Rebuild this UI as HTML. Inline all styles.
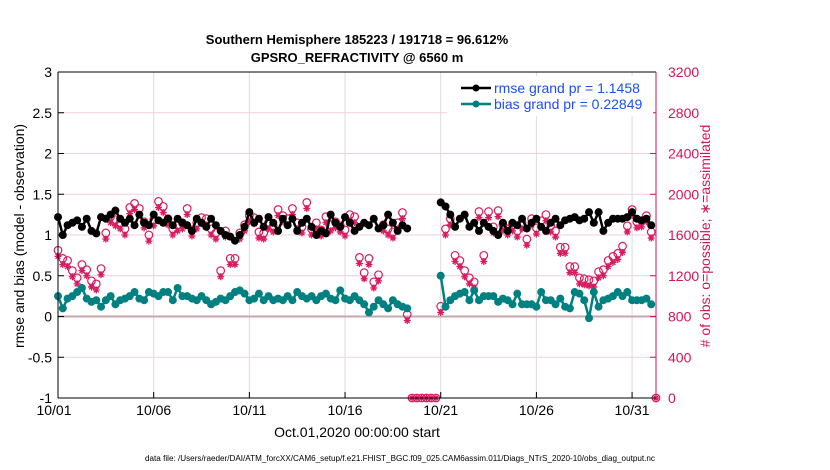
<!DOCTYPE html>
<html><head><meta charset="utf-8"><style>
html,body{margin:0;padding:0;background:#fff;}
svg{display:block;font-family:"Liberation Sans",Arial,sans-serif;}
</style></head><body>
<svg id="chart" width="830" height="470" viewBox="0 0 830 470">
<g id="grid"></g>
<g id="series"></g>
<g id="axes"></g>
<text x="357" y="44" text-anchor="middle" font-size="13" font-weight="bold">Southern Hemisphere 185223 / 191718 = 96.612%</text>
<text x="357" y="62" text-anchor="middle" font-size="13" font-weight="bold">GPSRO_REFRACTIVITY @ 6560 m</text>
<text x="357" y="437" text-anchor="middle" font-size="14">Oct.01,2020 00:00:00 start</text>
<text x="400" y="461" text-anchor="middle" font-size="8" textLength="510" lengthAdjust="spacingAndGlyphs">data file: /Users/raeder/DAI/ATM_forcXX/CAM6_setup/f.e21.FHIST_BGC.f09_025.CAM6assim.011/Diags_NTrS_2020-10/obs_diag_output.nc</text>
<text transform="translate(24,236) rotate(-90)" text-anchor="middle" font-size="14">rmse and bias (model - observation)</text>
<text transform="translate(710,236) rotate(-90)" text-anchor="middle" font-size="14" fill="#d4145a"># of obs: o=possible; ∗=assimilated</text>
<g>
<rect x="447" y="76" width="206" height="40" fill="#fff"/>
<line x1="461" y1="88" x2="491" y2="88" stroke="#000" stroke-width="2.5"/>
<circle cx="476" cy="88" r="3.5" fill="#000"/>
<text x="494" y="93" font-size="14" fill="#1a4ff0">rmse grand pr = 1.1458</text>
<line x1="461" y1="104" x2="491" y2="104" stroke="#008080" stroke-width="2.5"/>
<circle cx="476" cy="104" r="3.5" fill="#008080"/>
<text x="494" y="109" font-size="14" fill="#1a4ff0">bias grand pr = 0.22849</text>
</g>
</svg>
<script>
const rmseSeg1 = [1.22,1.0,1.12,1.15,1.18,1.1,1.2,1.05,1.02,1.22,1.2,1.25,1.3,1.2,1.15,1.2,1.12,1.25,1.15,1.12,1.25,1.18,1.15,1.2,1.12,1.2,1.15,1.12,1.05,1.2,1.15,1.1,1.2,1.12,1.05,1.0,0.98,0.93,1.0,1.1,1.28,1.15,1.2,1.1,1.22,1.15,1.05,1.2,1.12,1.2,1.05,1.15,1.2,1.1,1.0,1.05,1.02,1.25,1.15,1.1,1.22,1.15,1.05,1.1,1.15,1.12,1.2,1.08,1.12,1.25,1.15,1.05,1.12,1.08];
const rmseSeg2 = [1.4,1.35,1.25,1.1,1.2,1.25,1.1,1.15,1.05,1.15,1.1,1.05,1.0,1.15,1.05,1.15,1.12,1.2,1.08,1.15,1.2,1.1,1.05,1.15,1.2,1.12,1.18,1.2,1.22,1.18,1.2,1.28,1.15,1.28,1.05,1.15,1.2,1.2,1.2,1.22,1.28,1.2,1.18,1.2,1.12];
const biasSeg1 = [0.25,0.1,0.22,0.25,0.3,0.35,0.22,0.18,0.2,0.12,0.2,0.25,0.15,0.2,0.22,0.25,0.3,0.22,0.2,0.3,0.28,0.25,0.3,0.3,0.2,0.35,0.25,0.25,0.22,0.2,0.25,0.2,0.15,0.18,0.22,0.2,0.25,0.3,0.32,0.28,0.2,0.22,0.28,0.2,0.25,0.2,0.22,0.2,0.25,0.2,0.3,0.25,0.22,0.25,0.2,0.25,0.28,0.22,0.2,0.32,0.22,0.2,0.25,0.2,0.15,0.05,0.12,0.2,0.15,0.1,0.2,0.15,0.12,0.1];
const biasSeg2 = [0.5,0.12,0.2,0.25,0.28,0.3,0.2,0.32,0.2,0.25,0.25,0.25,0.18,0.22,0.2,0.15,0.28,0.15,0.15,0.15,0.12,0.3,0.2,0.2,0.15,0.22,0.12,0.1,0.3,0.28,0.2,-0.02,0.3,0.12,0.2,0.22,0.25,0.3,0.25,0.3,0.2,0.2,0.2,0.22,0.15];
const possSeg1 = [1450,1370,1350,1250,1180,1310,1260,1150,1120,1270,1620,1780,1750,1720,1660,1870,1910,1860,1730,1600,1750,1930,1880,1760,1660,1700,1720,1860,1650,1720,1770,1760,1660,1620,1250,1640,1370,1370,1620,1700,1790,1770,1630,1620,1720,1690,1850,1790,1760,1860,1720,1680,1920,1660,1720,1650,1780,1700,1730,1690,1650,1800,1780,1380,1230,1370,1140,1210,1700,1660,1630,1720,1820,820];
const possGap = [0,0,0,0,0,0];
const possSeg2 = [900,1660,1760,1400,1350,1250,1180,1140,1830,1400,1830,1680,1840,1700,1660,1700,1640,1720,1560,1760,1670,1740,1800,1690,1640,1480,1480,1290,1290,1180,1170,1160,1150,1240,1260,1350,1390,1420,1490,1690,1850,1730,1740,1790,1630,0];
const assimSeg1 = [1390,1310,1290,1190,1120,1250,1200,1090,1060,1210,1560,1720,1690,1660,1600,1810,1850,1800,1670,1540,1690,1870,1820,1700,1600,1640,1660,1800,1590,1660,1710,1700,1600,1560,1190,1580,1310,1310,1560,1640,1730,1710,1570,1560,1660,1630,1790,1730,1700,1800,1660,1620,1860,1600,1660,1590,1720,1640,1670,1630,1590,1740,1720,1320,1170,1310,1080,1150,1640,1600,1570,1660,1760,760];
const assimGap = [0,0,0,0,0,0];
const assimSeg2 = [840,1600,1700,1340,1290,1190,1120,1080,1770,1340,1770,1620,1780,1640,1600,1640,1580,1660,1500,1700,1610,1680,1740,1630,1580,1420,1420,1230,1230,1120,1110,1100,1090,1180,1200,1290,1330,1360,1430,1630,1790,1670,1680,1730,1570,0];
const xTickLabels = ["10/01","10/06","10/11","10/16","10/21","10/26","10/31"];
const xTickDays = [0,5,10,15,20,25,30];
const yLeftTicks = [-1,-0.5,0,0.5,1,1.5,2,2.5,3];
const yRightTicks = [0,400,800,1200,1600,2000,2400,2800,3200];

const NS="http://www.w3.org/2000/svg";
const X0=58,X1=656,Y0=72,Y1=398,DAYMAX=31.25,STEP=0.25;
const xs=d=>X0+(X1-X0)*d/DAYMAX;
const yl=v=>Y1-(Y1-Y0)*(v+1)/4;
const yr=c=>Y1-(Y1-Y0)*c/3200;
function mk(parent,tag,attrs){const e=document.createElementNS(NS,tag);for(const k in attrs)e.setAttribute(k,attrs[k]);parent.appendChild(e);return e;}
const grid=document.getElementById('grid'),ser=document.getElementById('series'),ax=document.getElementById('axes');

xTickDays.forEach((d,i)=>{
  const l=mk(grid,'line',{x1:xs(d),x2:xs(d),y1:Y0,y2:Y1,stroke:'#dcdcdc','stroke-width':1});
  
  
  const t=mk(ax,'line',{x1:xs(d),x2:xs(d),y1:Y1,y2:Y1-6,stroke:'#000'});
  
  
  const tx=mk(ax,'text',{x:xs(d)+(i==0?-4:0),y:Y1+17,'text-anchor':'middle','font-size':14});
  tx.textContent=xTickLabels[i];
  
  
});
yRightTicks.forEach(c=>{
  const l=mk(grid,'line',{x1:X0,x2:X1,y1:yr(c),y2:yr(c),stroke:'#f2d0dc','stroke-width':1});
  
  
  const tx=mk(ax,'text',{x:X1+12,y:yr(c)+5,'font-size':14,fill:'#d4145a'});
  tx.textContent=c;
  
  
  const t=mk(ax,'line',{x1:X1,x2:X1-6,y1:yr(c),y2:yr(c),stroke:'#d4145a'});
  
  
});
yLeftTicks.forEach(v=>{
  const tx=mk(ax,'text',{x:X0-6,y:yl(v)+5,'text-anchor':'end','font-size':14});
  tx.textContent=String(v);
  
  
  const t=mk(ax,'line',{x1:X0,x2:X0+6,y1:yl(v),y2:yl(v),stroke:'#000'});
  
  
});
const zl=mk(grid,'line',{x1:X0,x2:X1,y1:yl(0),y2:yl(0),stroke:'#c4a8ae','stroke-width':2});



const poss=possSeg1.concat(possGap,possSeg2), assim=assimSeg1.concat(assimGap,assimSeg2);
poss.forEach((c,i)=>{
  const d=i*STEP;
  const o=mk(ser,'circle',{cx:xs(d),cy:yr(c),r:3.8,fill:'none',stroke:'#d81b60','stroke-width':1.2});
  
  
});
assim.forEach((c,i)=>{
  const x=xs(i*STEP),y=yr(c),r=3.5;
  const p=mk(ser,'path',{d:`M${x-r},${y}H${x+r}M${x},${y-r}V${y+r}M${x-r*0.7},${y-r*0.7}L${x+r*0.7},${y+r*0.7}M${x-r*0.7},${y+r*0.7}L${x+r*0.7},${y-r*0.7}`,stroke:'#d81b60','stroke-width':1.3,fill:'none'});
  
  
});
function drawSeries(vals,startDay,color,name){
  const pts=vals.map((v,i)=>[xs(startDay+i*STEP),yl(v)]);
  const p=mk(ser,'polyline',{points:pts.map(p=>p.join(',')).join(' '),fill:'none',stroke:color,'stroke-width':2.5});
  
  
  pts.forEach(q=>{
    const c=mk(ser,'circle',{cx:q[0],cy:q[1],r:4,fill:color});
    
    
  });
}
drawSeries(rmseSeg1,0,'#000','rmse');
drawSeries(rmseSeg2,20,'#000','rmse');
drawSeries(biasSeg1,0,'#008080','bias');
drawSeries(biasSeg2,20,'#008080','bias');

const ls=mk(ax,'line',{x1:X0,x2:X0,y1:Y0,y2:Y1,stroke:'#000'});


const bs=mk(ax,'line',{x1:X0,x2:X1,y1:Y1,y2:Y1,stroke:'#000'});


const ts=mk(ax,'line',{x1:X0,x2:X1,y1:Y0,y2:Y0,stroke:'#000'});


const rs=mk(ax,'line',{x1:X1,x2:X1,y1:Y0,y2:Y1,stroke:'#d4145a'});


</script>
</body></html>
